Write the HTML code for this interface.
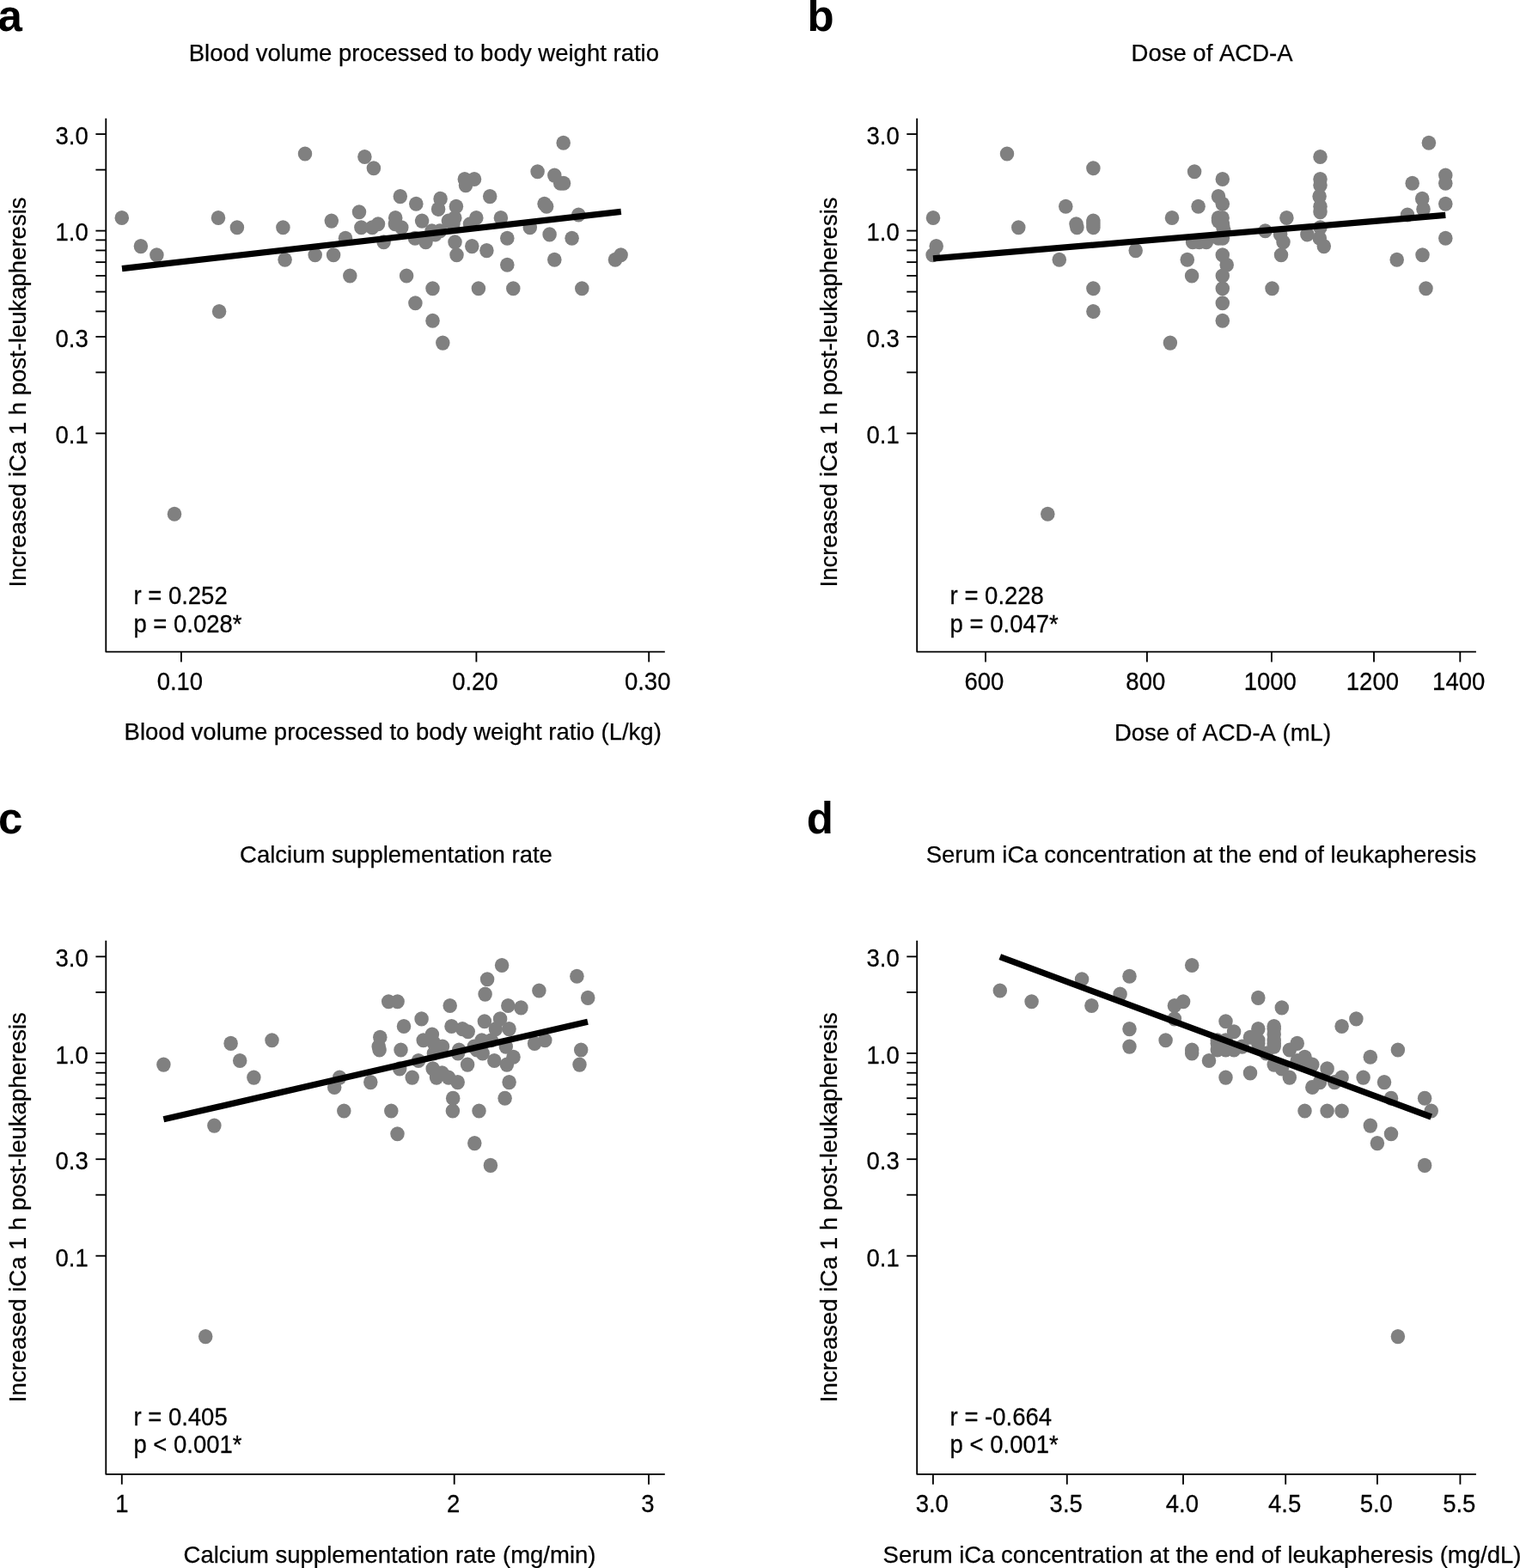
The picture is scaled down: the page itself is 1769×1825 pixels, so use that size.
<!DOCTYPE html>
<html lang="en"><head><meta charset="utf-8"><title>Correlation scatter plots</title>
<style>
html,body{margin:0;padding:0;background:#fff;}
body{width:1769px;height:1825px;overflow:hidden;}
svg{display:block;font-family:"Liberation Sans",Arial,Helvetica,sans-serif;fill:#000;font-kerning:none;}
</style></head><body>
<svg width="1769" height="1825" viewBox="0 0 1769 1825">
<rect x="0" y="0" width="1769" height="1825" fill="#fff"/>
<g id="panel-a">
<g fill="#808080">
<ellipse cx="141.8" cy="253.5" rx="8.25" ry="8.55"/>
<ellipse cx="163.9" cy="286.6" rx="8.25" ry="8.55"/>
<ellipse cx="182.4" cy="296.8" rx="8.25" ry="8.55"/>
<ellipse cx="254.0" cy="253.5" rx="8.25" ry="8.55"/>
<ellipse cx="275.9" cy="264.7" rx="8.25" ry="8.55"/>
<ellipse cx="329.4" cy="264.7" rx="8.25" ry="8.55"/>
<ellipse cx="355.0" cy="179.0" rx="8.25" ry="8.55"/>
<ellipse cx="331.6" cy="302.3" rx="8.25" ry="8.55"/>
<ellipse cx="255.1" cy="362.5" rx="8.25" ry="8.55"/>
<ellipse cx="203.0" cy="598.3" rx="8.25" ry="8.55"/>
<ellipse cx="366.7" cy="296.8" rx="8.25" ry="8.55"/>
<ellipse cx="388.1" cy="296.8" rx="8.25" ry="8.55"/>
<ellipse cx="385.8" cy="257.1" rx="8.25" ry="8.55"/>
<ellipse cx="402.0" cy="277.2" rx="8.25" ry="8.55"/>
<ellipse cx="407.3" cy="321.0" rx="8.25" ry="8.55"/>
<ellipse cx="418.0" cy="246.7" rx="8.25" ry="8.55"/>
<ellipse cx="420.4" cy="264.7" rx="8.25" ry="8.55"/>
<ellipse cx="424.4" cy="182.5" rx="8.25" ry="8.55"/>
<ellipse cx="433.2" cy="264.7" rx="8.25" ry="8.55"/>
<ellipse cx="434.9" cy="195.7" rx="8.25" ry="8.55"/>
<ellipse cx="440.0" cy="260.8" rx="8.25" ry="8.55"/>
<ellipse cx="446.6" cy="281.8" rx="8.25" ry="8.55"/>
<ellipse cx="460.2" cy="253.5" rx="8.25" ry="8.55"/>
<ellipse cx="459.9" cy="260.8" rx="8.25" ry="8.55"/>
<ellipse cx="467.3" cy="264.7" rx="8.25" ry="8.55"/>
<ellipse cx="465.8" cy="228.6" rx="8.25" ry="8.55"/>
<ellipse cx="473.1" cy="321.0" rx="8.25" ry="8.55"/>
<ellipse cx="483.4" cy="352.8" rx="8.25" ry="8.55"/>
<ellipse cx="484.3" cy="237.2" rx="8.25" ry="8.55"/>
<ellipse cx="483.0" cy="277.2" rx="8.25" ry="8.55"/>
<ellipse cx="491.1" cy="257.1" rx="8.25" ry="8.55"/>
<ellipse cx="495.5" cy="281.8" rx="8.25" ry="8.55"/>
<ellipse cx="502.6" cy="268.7" rx="8.25" ry="8.55"/>
<ellipse cx="512.2" cy="268.7" rx="8.25" ry="8.55"/>
<ellipse cx="506.6" cy="272.9" rx="8.25" ry="8.55"/>
<ellipse cx="503.5" cy="335.7" rx="8.25" ry="8.55"/>
<ellipse cx="503.5" cy="373.3" rx="8.25" ry="8.55"/>
<ellipse cx="510.1" cy="243.4" rx="8.25" ry="8.55"/>
<ellipse cx="512.6" cy="231.4" rx="8.25" ry="8.55"/>
<ellipse cx="515.3" cy="399.1" rx="8.25" ry="8.55"/>
<ellipse cx="521.9" cy="257.1" rx="8.25" ry="8.55"/>
<ellipse cx="529.3" cy="253.5" rx="8.25" ry="8.55"/>
<ellipse cx="527.5" cy="260.8" rx="8.25" ry="8.55"/>
<ellipse cx="530.9" cy="240.3" rx="8.25" ry="8.55"/>
<ellipse cx="529.5" cy="281.8" rx="8.25" ry="8.55"/>
<ellipse cx="531.5" cy="296.8" rx="8.25" ry="8.55"/>
<ellipse cx="540.8" cy="208.5" rx="8.25" ry="8.55"/>
<ellipse cx="542.0" cy="215.6" rx="8.25" ry="8.55"/>
<ellipse cx="547.0" cy="260.8" rx="8.25" ry="8.55"/>
<ellipse cx="549.3" cy="286.6" rx="8.25" ry="8.55"/>
<ellipse cx="552.0" cy="208.5" rx="8.25" ry="8.55"/>
<ellipse cx="554.3" cy="253.5" rx="8.25" ry="8.55"/>
<ellipse cx="556.9" cy="335.7" rx="8.25" ry="8.55"/>
<ellipse cx="566.4" cy="291.6" rx="8.25" ry="8.55"/>
<ellipse cx="570.2" cy="228.6" rx="8.25" ry="8.55"/>
<ellipse cx="582.9" cy="253.5" rx="8.25" ry="8.55"/>
<ellipse cx="590.3" cy="277.2" rx="8.25" ry="8.55"/>
<ellipse cx="590.3" cy="308.2" rx="8.25" ry="8.55"/>
<ellipse cx="597.3" cy="335.7" rx="8.25" ry="8.55"/>
<ellipse cx="616.8" cy="264.7" rx="8.25" ry="8.55"/>
<ellipse cx="625.6" cy="199.8" rx="8.25" ry="8.55"/>
<ellipse cx="633.6" cy="237.2" rx="8.25" ry="8.55"/>
<ellipse cx="636.1" cy="240.3" rx="8.25" ry="8.55"/>
<ellipse cx="639.6" cy="272.9" rx="8.25" ry="8.55"/>
<ellipse cx="645.3" cy="204.1" rx="8.25" ry="8.55"/>
<ellipse cx="645.3" cy="302.3" rx="8.25" ry="8.55"/>
<ellipse cx="652.2" cy="213.2" rx="8.25" ry="8.55"/>
<ellipse cx="656.0" cy="213.2" rx="8.25" ry="8.55"/>
<ellipse cx="655.7" cy="166.2" rx="8.25" ry="8.55"/>
<ellipse cx="665.6" cy="277.2" rx="8.25" ry="8.55"/>
<ellipse cx="673.3" cy="250.0" rx="8.25" ry="8.55"/>
<ellipse cx="677.3" cy="335.7" rx="8.25" ry="8.55"/>
<ellipse cx="716.0" cy="302.3" rx="8.25" ry="8.55"/>
<ellipse cx="722.6" cy="296.8" rx="8.25" ry="8.55"/>
</g>
<line x1="142.00" y1="312.60" x2="722.80" y2="246.30" stroke="#000" stroke-width="7.3" stroke-linecap="butt"/>
<path d="M123.30 137.70V758.60H773.80" fill="none" stroke="#000" stroke-width="1.85" stroke-linejoin="round"/>
<line x1="111.40" y1="156.09" x2="123.30" y2="156.09" stroke="#000" stroke-width="1.85" stroke-linecap="butt"/>
<line x1="111.40" y1="197.62" x2="123.30" y2="197.62" stroke="#000" stroke-width="1.85" stroke-linecap="butt"/>
<line x1="111.40" y1="268.60" x2="123.30" y2="268.60" stroke="#000" stroke-width="1.85" stroke-linecap="butt"/>
<line x1="111.40" y1="279.39" x2="123.30" y2="279.39" stroke="#000" stroke-width="1.85" stroke-linecap="butt"/>
<line x1="111.40" y1="291.45" x2="123.30" y2="291.45" stroke="#000" stroke-width="1.85" stroke-linecap="butt"/>
<line x1="111.40" y1="305.13" x2="123.30" y2="305.13" stroke="#000" stroke-width="1.85" stroke-linecap="butt"/>
<line x1="111.40" y1="320.91" x2="123.30" y2="320.91" stroke="#000" stroke-width="1.85" stroke-linecap="butt"/>
<line x1="111.40" y1="339.58" x2="123.30" y2="339.58" stroke="#000" stroke-width="1.85" stroke-linecap="butt"/>
<line x1="111.40" y1="362.43" x2="123.30" y2="362.43" stroke="#000" stroke-width="1.85" stroke-linecap="butt"/>
<line x1="111.40" y1="391.89" x2="123.30" y2="391.89" stroke="#000" stroke-width="1.85" stroke-linecap="butt"/>
<line x1="111.40" y1="433.42" x2="123.30" y2="433.42" stroke="#000" stroke-width="1.85" stroke-linecap="butt"/>
<line x1="111.40" y1="504.40" x2="123.30" y2="504.40" stroke="#000" stroke-width="1.85" stroke-linecap="butt"/>
<text transform="translate(102.80 167.89) scale(1 1.04)" text-anchor="end" font-size="27.5" font-weight="normal" stroke="#000" stroke-width="0.25">3.0</text>
<text transform="translate(102.80 280.40) scale(1 1.04)" text-anchor="end" font-size="27.5" font-weight="normal" stroke="#000" stroke-width="0.25">1.0</text>
<text transform="translate(102.80 403.69) scale(1 1.04)" text-anchor="end" font-size="27.5" font-weight="normal" stroke="#000" stroke-width="0.25">0.3</text>
<text transform="translate(102.80 516.20) scale(1 1.04)" text-anchor="end" font-size="27.5" font-weight="normal" stroke="#000" stroke-width="0.25">0.1</text>
<line x1="210.90" y1="758.60" x2="210.90" y2="770.50" stroke="#000" stroke-width="1.85" stroke-linecap="butt"/>
<text transform="translate(209.40 802.60) scale(1 1.04)" text-anchor="middle" font-size="27.5" font-weight="normal" stroke="#000" stroke-width="0.25">0.10</text>
<line x1="554.40" y1="758.60" x2="554.40" y2="770.50" stroke="#000" stroke-width="1.85" stroke-linecap="butt"/>
<text transform="translate(552.90 802.60) scale(1 1.04)" text-anchor="middle" font-size="27.5" font-weight="normal" stroke="#000" stroke-width="0.25">0.20</text>
<line x1="755.20" y1="758.60" x2="755.20" y2="770.50" stroke="#000" stroke-width="1.85" stroke-linecap="butt"/>
<text transform="translate(753.70 802.60) scale(1 1.04)" text-anchor="middle" font-size="27.5" font-weight="normal" stroke="#000" stroke-width="0.25">0.30</text>
<text transform="translate(493.35 70.80) scale(1 1.0)" text-anchor="middle" font-size="27.5" font-weight="normal" stroke="#000" stroke-width="0.25">Blood volume processed to body weight ratio</text>
<text transform="translate(457.20 861.40) scale(1 1.0)" text-anchor="middle" font-size="27.5" font-weight="normal" stroke="#000" stroke-width="0.25">Blood volume processed to body weight ratio (L/kg)</text>
<text transform="translate(-2.60 36.00) scale(1 1.02)" text-anchor="start" font-size="51" font-weight="bold" stroke="#000" stroke-width="0">a</text>
<text transform="translate(155.40 702.90) scale(1 1.04)" text-anchor="start" font-size="27.5" font-weight="normal" stroke="#000" stroke-width="0.25">r = 0.252</text>
<text transform="translate(155.40 735.50) scale(1 1.04)" text-anchor="start" font-size="27.5" font-weight="normal" stroke="#000" stroke-width="0.25">p = 0.028*</text>
<text transform="translate(29.50 456.50) rotate(-90) scale(1 1.0)" text-anchor="middle" font-size="27.5" font-weight="normal" stroke="#000" stroke-width="0.25">Increased iCa 1 h post-leukapheresis</text>
</g>
<g id="panel-b">
<g fill="#808080">
<ellipse cx="1172.0" cy="179.0" rx="8.25" ry="8.55"/>
<ellipse cx="1272.4" cy="195.7" rx="8.25" ry="8.55"/>
<ellipse cx="1240.3" cy="240.3" rx="8.25" ry="8.55"/>
<ellipse cx="1086.0" cy="253.5" rx="8.25" ry="8.55"/>
<ellipse cx="1185.3" cy="264.7" rx="8.25" ry="8.55"/>
<ellipse cx="1252.5" cy="260.8" rx="8.25" ry="8.55"/>
<ellipse cx="1253.4" cy="264.7" rx="8.25" ry="8.55"/>
<ellipse cx="1272.4" cy="257.1" rx="8.25" ry="8.55"/>
<ellipse cx="1272.4" cy="264.7" rx="8.25" ry="8.55"/>
<ellipse cx="1089.7" cy="286.6" rx="8.25" ry="8.55"/>
<ellipse cx="1085.6" cy="296.8" rx="8.25" ry="8.55"/>
<ellipse cx="1232.8" cy="302.3" rx="8.25" ry="8.55"/>
<ellipse cx="1272.4" cy="335.7" rx="8.25" ry="8.55"/>
<ellipse cx="1272.4" cy="362.5" rx="8.25" ry="8.55"/>
<ellipse cx="1219.3" cy="598.3" rx="8.25" ry="8.55"/>
<ellipse cx="1361.9" cy="399.1" rx="8.25" ry="8.55"/>
<ellipse cx="1390.1" cy="199.8" rx="8.25" ry="8.55"/>
<ellipse cx="1422.8" cy="208.5" rx="8.25" ry="8.55"/>
<ellipse cx="1418.0" cy="228.6" rx="8.25" ry="8.55"/>
<ellipse cx="1422.8" cy="237.2" rx="8.25" ry="8.55"/>
<ellipse cx="1394.6" cy="240.3" rx="8.25" ry="8.55"/>
<ellipse cx="1364.0" cy="253.5" rx="8.25" ry="8.55"/>
<ellipse cx="1497.4" cy="253.5" rx="8.25" ry="8.55"/>
<ellipse cx="1418.0" cy="253.5" rx="8.25" ry="8.55"/>
<ellipse cx="1422.6" cy="253.5" rx="8.25" ry="8.55"/>
<ellipse cx="1418.0" cy="257.1" rx="8.25" ry="8.55"/>
<ellipse cx="1423.4" cy="264.7" rx="8.25" ry="8.55"/>
<ellipse cx="1422.9" cy="260.8" rx="8.25" ry="8.55"/>
<ellipse cx="1388.1" cy="281.8" rx="8.25" ry="8.55"/>
<ellipse cx="1403.9" cy="281.8" rx="8.25" ry="8.55"/>
<ellipse cx="1418.0" cy="277.2" rx="8.25" ry="8.55"/>
<ellipse cx="1422.9" cy="277.2" rx="8.25" ry="8.55"/>
<ellipse cx="1472.5" cy="268.7" rx="8.25" ry="8.55"/>
<ellipse cx="1490.1" cy="272.9" rx="8.25" ry="8.55"/>
<ellipse cx="1493.5" cy="281.8" rx="8.25" ry="8.55"/>
<ellipse cx="1491.0" cy="296.8" rx="8.25" ry="8.55"/>
<ellipse cx="1321.7" cy="291.6" rx="8.25" ry="8.55"/>
<ellipse cx="1381.8" cy="302.3" rx="8.25" ry="8.55"/>
<ellipse cx="1387.1" cy="321.0" rx="8.25" ry="8.55"/>
<ellipse cx="1422.8" cy="296.8" rx="8.25" ry="8.55"/>
<ellipse cx="1427.7" cy="308.2" rx="8.25" ry="8.55"/>
<ellipse cx="1422.8" cy="321.0" rx="8.25" ry="8.55"/>
<ellipse cx="1422.8" cy="335.7" rx="8.25" ry="8.55"/>
<ellipse cx="1422.8" cy="352.8" rx="8.25" ry="8.55"/>
<ellipse cx="1422.8" cy="373.3" rx="8.25" ry="8.55"/>
<ellipse cx="1480.5" cy="335.7" rx="8.25" ry="8.55"/>
<ellipse cx="1521.4" cy="272.9" rx="8.25" ry="8.55"/>
<ellipse cx="1536.5" cy="182.5" rx="8.25" ry="8.55"/>
<ellipse cx="1536.5" cy="208.5" rx="8.25" ry="8.55"/>
<ellipse cx="1536.5" cy="215.6" rx="8.25" ry="8.55"/>
<ellipse cx="1535.6" cy="228.6" rx="8.25" ry="8.55"/>
<ellipse cx="1536.5" cy="240.3" rx="8.25" ry="8.55"/>
<ellipse cx="1536.5" cy="246.7" rx="8.25" ry="8.55"/>
<ellipse cx="1536.5" cy="264.7" rx="8.25" ry="8.55"/>
<ellipse cx="1535.8" cy="277.2" rx="8.25" ry="8.55"/>
<ellipse cx="1540.8" cy="286.6" rx="8.25" ry="8.55"/>
<ellipse cx="1643.7" cy="213.2" rx="8.25" ry="8.55"/>
<ellipse cx="1682.3" cy="204.1" rx="8.25" ry="8.55"/>
<ellipse cx="1682.3" cy="213.2" rx="8.25" ry="8.55"/>
<ellipse cx="1655.2" cy="231.4" rx="8.25" ry="8.55"/>
<ellipse cx="1682.3" cy="237.2" rx="8.25" ry="8.55"/>
<ellipse cx="1656.5" cy="243.4" rx="8.25" ry="8.55"/>
<ellipse cx="1638.0" cy="250.0" rx="8.25" ry="8.55"/>
<ellipse cx="1682.3" cy="277.2" rx="8.25" ry="8.55"/>
<ellipse cx="1655.5" cy="296.8" rx="8.25" ry="8.55"/>
<ellipse cx="1625.7" cy="302.3" rx="8.25" ry="8.55"/>
<ellipse cx="1659.5" cy="335.7" rx="8.25" ry="8.55"/>
<ellipse cx="1662.9" cy="166.2" rx="8.25" ry="8.55"/>
<ellipse cx="1395.7" cy="281.8" rx="8.25" ry="8.55"/>
<ellipse cx="1424.4" cy="268.7" rx="8.25" ry="8.55"/>
<ellipse cx="1272.4" cy="260.8" rx="8.25" ry="8.55"/>
</g>
<line x1="1086.00" y1="300.90" x2="1682.30" y2="250.40" stroke="#000" stroke-width="7.3" stroke-linecap="butt"/>
<path d="M1067.20 137.70V758.60H1717.90" fill="none" stroke="#000" stroke-width="1.85" stroke-linejoin="round"/>
<line x1="1055.30" y1="156.09" x2="1067.20" y2="156.09" stroke="#000" stroke-width="1.85" stroke-linecap="butt"/>
<line x1="1055.30" y1="197.62" x2="1067.20" y2="197.62" stroke="#000" stroke-width="1.85" stroke-linecap="butt"/>
<line x1="1055.30" y1="268.60" x2="1067.20" y2="268.60" stroke="#000" stroke-width="1.85" stroke-linecap="butt"/>
<line x1="1055.30" y1="279.39" x2="1067.20" y2="279.39" stroke="#000" stroke-width="1.85" stroke-linecap="butt"/>
<line x1="1055.30" y1="291.45" x2="1067.20" y2="291.45" stroke="#000" stroke-width="1.85" stroke-linecap="butt"/>
<line x1="1055.30" y1="305.13" x2="1067.20" y2="305.13" stroke="#000" stroke-width="1.85" stroke-linecap="butt"/>
<line x1="1055.30" y1="320.91" x2="1067.20" y2="320.91" stroke="#000" stroke-width="1.85" stroke-linecap="butt"/>
<line x1="1055.30" y1="339.58" x2="1067.20" y2="339.58" stroke="#000" stroke-width="1.85" stroke-linecap="butt"/>
<line x1="1055.30" y1="362.43" x2="1067.20" y2="362.43" stroke="#000" stroke-width="1.85" stroke-linecap="butt"/>
<line x1="1055.30" y1="391.89" x2="1067.20" y2="391.89" stroke="#000" stroke-width="1.85" stroke-linecap="butt"/>
<line x1="1055.30" y1="433.42" x2="1067.20" y2="433.42" stroke="#000" stroke-width="1.85" stroke-linecap="butt"/>
<line x1="1055.30" y1="504.40" x2="1067.20" y2="504.40" stroke="#000" stroke-width="1.85" stroke-linecap="butt"/>
<text transform="translate(1046.70 167.89) scale(1 1.04)" text-anchor="end" font-size="27.5" font-weight="normal" stroke="#000" stroke-width="0.25">3.0</text>
<text transform="translate(1046.70 280.40) scale(1 1.04)" text-anchor="end" font-size="27.5" font-weight="normal" stroke="#000" stroke-width="0.25">1.0</text>
<text transform="translate(1046.70 403.69) scale(1 1.04)" text-anchor="end" font-size="27.5" font-weight="normal" stroke="#000" stroke-width="0.25">0.3</text>
<text transform="translate(1046.70 516.20) scale(1 1.04)" text-anchor="end" font-size="27.5" font-weight="normal" stroke="#000" stroke-width="0.25">0.1</text>
<line x1="1147.00" y1="758.60" x2="1147.00" y2="770.50" stroke="#000" stroke-width="1.85" stroke-linecap="butt"/>
<text transform="translate(1145.40 802.60) scale(1 1.04)" text-anchor="middle" font-size="27.5" font-weight="normal" stroke="#000" stroke-width="0.25">600</text>
<line x1="1334.90" y1="758.60" x2="1334.90" y2="770.50" stroke="#000" stroke-width="1.85" stroke-linecap="butt"/>
<text transform="translate(1333.30 802.60) scale(1 1.04)" text-anchor="middle" font-size="27.5" font-weight="normal" stroke="#000" stroke-width="0.25">800</text>
<line x1="1479.90" y1="758.60" x2="1479.90" y2="770.50" stroke="#000" stroke-width="1.85" stroke-linecap="butt"/>
<text transform="translate(1478.30 802.60) scale(1 1.04)" text-anchor="middle" font-size="27.5" font-weight="normal" stroke="#000" stroke-width="0.25">1000</text>
<line x1="1599.00" y1="758.60" x2="1599.00" y2="770.50" stroke="#000" stroke-width="1.85" stroke-linecap="butt"/>
<text transform="translate(1597.40 802.60) scale(1 1.04)" text-anchor="middle" font-size="27.5" font-weight="normal" stroke="#000" stroke-width="0.25">1200</text>
<line x1="1699.30" y1="758.60" x2="1699.30" y2="770.50" stroke="#000" stroke-width="1.85" stroke-linecap="butt"/>
<text transform="translate(1697.70 802.60) scale(1 1.04)" text-anchor="middle" font-size="27.5" font-weight="normal" stroke="#000" stroke-width="0.25">1400</text>
<text transform="translate(1410.50 70.70) scale(1 1.0)" text-anchor="middle" font-size="27.5" font-weight="normal" stroke="#000" stroke-width="0.25">Dose of ACD-A</text>
<text transform="translate(1423.00 861.80) scale(1 1.0)" text-anchor="middle" font-size="27.5" font-weight="normal" stroke="#000" stroke-width="0.25">Dose of ACD-A (mL)</text>
<text transform="translate(939.60 36.00) scale(1 1.02)" text-anchor="start" font-size="51" font-weight="bold" stroke="#000" stroke-width="0">b</text>
<text transform="translate(1105.60 702.90) scale(1 1.04)" text-anchor="start" font-size="27.5" font-weight="normal" stroke="#000" stroke-width="0.25">r = 0.228</text>
<text transform="translate(1105.60 735.50) scale(1 1.04)" text-anchor="start" font-size="27.5" font-weight="normal" stroke="#000" stroke-width="0.25">p = 0.047*</text>
<text transform="translate(973.50 456.50) rotate(-90) scale(1 1.0)" text-anchor="middle" font-size="27.5" font-weight="normal" stroke="#000" stroke-width="0.25">Increased iCa 1 h post-leukapheresis</text>
</g>
<g id="panel-c">
<g fill="#808080">
<ellipse cx="190.4" cy="1239.1" rx="8.25" ry="8.55"/>
<ellipse cx="268.6" cy="1214.4" rx="8.25" ry="8.55"/>
<ellipse cx="316.5" cy="1210.8" rx="8.25" ry="8.55"/>
<ellipse cx="279.2" cy="1234.5" rx="8.25" ry="8.55"/>
<ellipse cx="295.4" cy="1254.1" rx="8.25" ry="8.55"/>
<ellipse cx="239.2" cy="1555.6" rx="8.25" ry="8.55"/>
<ellipse cx="249.4" cy="1310.1" rx="8.25" ry="8.55"/>
<ellipse cx="395.2" cy="1254.1" rx="8.25" ry="8.55"/>
<ellipse cx="389.2" cy="1265.5" rx="8.25" ry="8.55"/>
<ellipse cx="400.3" cy="1293.0" rx="8.25" ry="8.55"/>
<ellipse cx="431.3" cy="1259.6" rx="8.25" ry="8.55"/>
<ellipse cx="442.3" cy="1207.3" rx="8.25" ry="8.55"/>
<ellipse cx="441.6" cy="1222.0" rx="8.25" ry="8.55"/>
<ellipse cx="452.2" cy="1165.8" rx="8.25" ry="8.55"/>
<ellipse cx="462.6" cy="1165.8" rx="8.25" ry="8.55"/>
<ellipse cx="455.3" cy="1293.0" rx="8.25" ry="8.55"/>
<ellipse cx="462.5" cy="1319.8" rx="8.25" ry="8.55"/>
<ellipse cx="465.2" cy="1243.9" rx="8.25" ry="8.55"/>
<ellipse cx="466.5" cy="1222.0" rx="8.25" ry="8.55"/>
<ellipse cx="470.0" cy="1194.5" rx="8.25" ry="8.55"/>
<ellipse cx="479.7" cy="1254.1" rx="8.25" ry="8.55"/>
<ellipse cx="487.0" cy="1234.5" rx="8.25" ry="8.55"/>
<ellipse cx="490.6" cy="1185.9" rx="8.25" ry="8.55"/>
<ellipse cx="492.7" cy="1210.8" rx="8.25" ry="8.55"/>
<ellipse cx="502.9" cy="1204.0" rx="8.25" ry="8.55"/>
<ellipse cx="504.9" cy="1226.0" rx="8.25" ry="8.55"/>
<ellipse cx="503.7" cy="1243.9" rx="8.25" ry="8.55"/>
<ellipse cx="508.0" cy="1254.1" rx="8.25" ry="8.55"/>
<ellipse cx="514.5" cy="1248.9" rx="8.25" ry="8.55"/>
<ellipse cx="515.0" cy="1218.1" rx="8.25" ry="8.55"/>
<ellipse cx="522.0" cy="1254.1" rx="8.25" ry="8.55"/>
<ellipse cx="523.7" cy="1170.5" rx="8.25" ry="8.55"/>
<ellipse cx="525.5" cy="1194.5" rx="8.25" ry="8.55"/>
<ellipse cx="527.2" cy="1278.3" rx="8.25" ry="8.55"/>
<ellipse cx="526.9" cy="1293.0" rx="8.25" ry="8.55"/>
<ellipse cx="532.7" cy="1259.6" rx="8.25" ry="8.55"/>
<ellipse cx="533.0" cy="1226.0" rx="8.25" ry="8.55"/>
<ellipse cx="534.2" cy="1222.0" rx="8.25" ry="8.55"/>
<ellipse cx="538.2" cy="1197.6" rx="8.25" ry="8.55"/>
<ellipse cx="544.7" cy="1200.7" rx="8.25" ry="8.55"/>
<ellipse cx="544.1" cy="1239.1" rx="8.25" ry="8.55"/>
<ellipse cx="551.8" cy="1218.1" rx="8.25" ry="8.55"/>
<ellipse cx="552.3" cy="1330.6" rx="8.25" ry="8.55"/>
<ellipse cx="554.9" cy="1222.0" rx="8.25" ry="8.55"/>
<ellipse cx="557.5" cy="1293.0" rx="8.25" ry="8.55"/>
<ellipse cx="560.7" cy="1210.8" rx="8.25" ry="8.55"/>
<ellipse cx="561.7" cy="1226.0" rx="8.25" ry="8.55"/>
<ellipse cx="563.9" cy="1188.7" rx="8.25" ry="8.55"/>
<ellipse cx="564.6" cy="1157.1" rx="8.25" ry="8.55"/>
<ellipse cx="567.1" cy="1139.8" rx="8.25" ry="8.55"/>
<ellipse cx="570.9" cy="1356.4" rx="8.25" ry="8.55"/>
<ellipse cx="571.7" cy="1210.8" rx="8.25" ry="8.55"/>
<ellipse cx="575.3" cy="1234.5" rx="8.25" ry="8.55"/>
<ellipse cx="576.9" cy="1197.6" rx="8.25" ry="8.55"/>
<ellipse cx="582.1" cy="1185.9" rx="8.25" ry="8.55"/>
<ellipse cx="584.1" cy="1123.5" rx="8.25" ry="8.55"/>
<ellipse cx="587.6" cy="1278.3" rx="8.25" ry="8.55"/>
<ellipse cx="588.8" cy="1218.1" rx="8.25" ry="8.55"/>
<ellipse cx="589.9" cy="1239.1" rx="8.25" ry="8.55"/>
<ellipse cx="591.3" cy="1170.5" rx="8.25" ry="8.55"/>
<ellipse cx="592.5" cy="1197.6" rx="8.25" ry="8.55"/>
<ellipse cx="592.6" cy="1259.6" rx="8.25" ry="8.55"/>
<ellipse cx="597.5" cy="1230.2" rx="8.25" ry="8.55"/>
<ellipse cx="606.4" cy="1172.9" rx="8.25" ry="8.55"/>
<ellipse cx="622.1" cy="1214.4" rx="8.25" ry="8.55"/>
<ellipse cx="627.4" cy="1153.0" rx="8.25" ry="8.55"/>
<ellipse cx="634.3" cy="1210.8" rx="8.25" ry="8.55"/>
<ellipse cx="671.4" cy="1136.3" rx="8.25" ry="8.55"/>
<ellipse cx="674.5" cy="1239.1" rx="8.25" ry="8.55"/>
<ellipse cx="676.2" cy="1222.0" rx="8.25" ry="8.55"/>
<ellipse cx="684.2" cy="1161.4" rx="8.25" ry="8.55"/>
<ellipse cx="440.7" cy="1218.1" rx="8.25" ry="8.55"/>
<ellipse cx="505.2" cy="1214.4" rx="8.25" ry="8.55"/>
</g>
<line x1="190.40" y1="1302.80" x2="684.00" y2="1189.30" stroke="#000" stroke-width="7.3" stroke-linecap="butt"/>
<path d="M123.30 1094.80V1715.80H773.80" fill="none" stroke="#000" stroke-width="1.85" stroke-linejoin="round"/>
<line x1="111.40" y1="1113.39" x2="123.30" y2="1113.39" stroke="#000" stroke-width="1.85" stroke-linecap="butt"/>
<line x1="111.40" y1="1154.92" x2="123.30" y2="1154.92" stroke="#000" stroke-width="1.85" stroke-linecap="butt"/>
<line x1="111.40" y1="1225.90" x2="123.30" y2="1225.90" stroke="#000" stroke-width="1.85" stroke-linecap="butt"/>
<line x1="111.40" y1="1236.69" x2="123.30" y2="1236.69" stroke="#000" stroke-width="1.85" stroke-linecap="butt"/>
<line x1="111.40" y1="1248.75" x2="123.30" y2="1248.75" stroke="#000" stroke-width="1.85" stroke-linecap="butt"/>
<line x1="111.40" y1="1262.43" x2="123.30" y2="1262.43" stroke="#000" stroke-width="1.85" stroke-linecap="butt"/>
<line x1="111.40" y1="1278.21" x2="123.30" y2="1278.21" stroke="#000" stroke-width="1.85" stroke-linecap="butt"/>
<line x1="111.40" y1="1296.88" x2="123.30" y2="1296.88" stroke="#000" stroke-width="1.85" stroke-linecap="butt"/>
<line x1="111.40" y1="1319.73" x2="123.30" y2="1319.73" stroke="#000" stroke-width="1.85" stroke-linecap="butt"/>
<line x1="111.40" y1="1349.19" x2="123.30" y2="1349.19" stroke="#000" stroke-width="1.85" stroke-linecap="butt"/>
<line x1="111.40" y1="1390.72" x2="123.30" y2="1390.72" stroke="#000" stroke-width="1.85" stroke-linecap="butt"/>
<line x1="111.40" y1="1461.70" x2="123.30" y2="1461.70" stroke="#000" stroke-width="1.85" stroke-linecap="butt"/>
<text transform="translate(102.80 1125.19) scale(1 1.04)" text-anchor="end" font-size="27.5" font-weight="normal" stroke="#000" stroke-width="0.25">3.0</text>
<text transform="translate(102.80 1237.70) scale(1 1.04)" text-anchor="end" font-size="27.5" font-weight="normal" stroke="#000" stroke-width="0.25">1.0</text>
<text transform="translate(102.80 1360.99) scale(1 1.04)" text-anchor="end" font-size="27.5" font-weight="normal" stroke="#000" stroke-width="0.25">0.3</text>
<text transform="translate(102.80 1473.50) scale(1 1.04)" text-anchor="end" font-size="27.5" font-weight="normal" stroke="#000" stroke-width="0.25">0.1</text>
<line x1="141.80" y1="1715.80" x2="141.80" y2="1727.70" stroke="#000" stroke-width="1.85" stroke-linecap="butt"/>
<text transform="translate(141.80 1759.80) scale(1 1.04)" text-anchor="middle" font-size="27.5" font-weight="normal" stroke="#000" stroke-width="0.25">1</text>
<line x1="528.70" y1="1715.80" x2="528.70" y2="1727.70" stroke="#000" stroke-width="1.85" stroke-linecap="butt"/>
<text transform="translate(527.70 1759.80) scale(1 1.04)" text-anchor="middle" font-size="27.5" font-weight="normal" stroke="#000" stroke-width="0.25">2</text>
<line x1="755.00" y1="1715.80" x2="755.00" y2="1727.70" stroke="#000" stroke-width="1.85" stroke-linecap="butt"/>
<text transform="translate(754.00 1759.80) scale(1 1.04)" text-anchor="middle" font-size="27.5" font-weight="normal" stroke="#000" stroke-width="0.25">3</text>
<text transform="translate(461.00 1003.70) scale(1 1.0)" text-anchor="middle" font-size="27.5" font-weight="normal" stroke="#000" stroke-width="0.25">Calcium supplementation rate</text>
<text transform="translate(453.50 1818.90) scale(1 1.0)" text-anchor="middle" font-size="27.5" font-weight="normal" stroke="#000" stroke-width="0.25">Calcium supplementation rate (mg/min)</text>
<text transform="translate(-2.00 969.50) scale(1 1.02)" text-anchor="start" font-size="51" font-weight="bold" stroke="#000" stroke-width="0">c</text>
<text transform="translate(155.40 1658.80) scale(1 1.04)" text-anchor="start" font-size="27.5" font-weight="normal" stroke="#000" stroke-width="0.25">r = 0.405</text>
<text transform="translate(155.40 1691.40) scale(1 1.04)" text-anchor="start" font-size="27.5" font-weight="normal" stroke="#000" stroke-width="0.25">p &lt; 0.001*</text>
<text transform="translate(29.50 1405.20) rotate(-90) scale(1 1.0)" text-anchor="middle" font-size="27.5" font-weight="normal" stroke="#000" stroke-width="0.25">Increased iCa 1 h post-leukapheresis</text>
</g>
<g id="panel-d">
<g fill="#808080">
<ellipse cx="1163.8" cy="1153.0" rx="8.25" ry="8.55"/>
<ellipse cx="1200.6" cy="1165.8" rx="8.25" ry="8.55"/>
<ellipse cx="1259.1" cy="1139.8" rx="8.25" ry="8.55"/>
<ellipse cx="1270.4" cy="1170.5" rx="8.25" ry="8.55"/>
<ellipse cx="1303.6" cy="1157.1" rx="8.25" ry="8.55"/>
<ellipse cx="1314.5" cy="1136.3" rx="8.25" ry="8.55"/>
<ellipse cx="1314.5" cy="1197.6" rx="8.25" ry="8.55"/>
<ellipse cx="1314.5" cy="1218.1" rx="8.25" ry="8.55"/>
<ellipse cx="1356.6" cy="1210.8" rx="8.25" ry="8.55"/>
<ellipse cx="1366.9" cy="1170.5" rx="8.25" ry="8.55"/>
<ellipse cx="1366.9" cy="1185.9" rx="8.25" ry="8.55"/>
<ellipse cx="1377.1" cy="1165.8" rx="8.25" ry="8.55"/>
<ellipse cx="1387.2" cy="1123.5" rx="8.25" ry="8.55"/>
<ellipse cx="1387.2" cy="1222.0" rx="8.25" ry="8.55"/>
<ellipse cx="1387.2" cy="1226.0" rx="8.25" ry="8.55"/>
<ellipse cx="1407.0" cy="1234.5" rx="8.25" ry="8.55"/>
<ellipse cx="1416.8" cy="1210.8" rx="8.25" ry="8.55"/>
<ellipse cx="1416.8" cy="1214.4" rx="8.25" ry="8.55"/>
<ellipse cx="1416.8" cy="1222.0" rx="8.25" ry="8.55"/>
<ellipse cx="1426.5" cy="1188.7" rx="8.25" ry="8.55"/>
<ellipse cx="1426.5" cy="1210.8" rx="8.25" ry="8.55"/>
<ellipse cx="1426.5" cy="1222.0" rx="8.25" ry="8.55"/>
<ellipse cx="1426.5" cy="1254.1" rx="8.25" ry="8.55"/>
<ellipse cx="1436.1" cy="1200.7" rx="8.25" ry="8.55"/>
<ellipse cx="1436.1" cy="1222.0" rx="8.25" ry="8.55"/>
<ellipse cx="1445.6" cy="1218.1" rx="8.25" ry="8.55"/>
<ellipse cx="1455.0" cy="1207.3" rx="8.25" ry="8.55"/>
<ellipse cx="1455.0" cy="1248.9" rx="8.25" ry="8.55"/>
<ellipse cx="1464.3" cy="1161.4" rx="8.25" ry="8.55"/>
<ellipse cx="1464.3" cy="1197.6" rx="8.25" ry="8.55"/>
<ellipse cx="1464.3" cy="1210.8" rx="8.25" ry="8.55"/>
<ellipse cx="1464.3" cy="1214.4" rx="8.25" ry="8.55"/>
<ellipse cx="1473.6" cy="1226.0" rx="8.25" ry="8.55"/>
<ellipse cx="1482.7" cy="1194.5" rx="8.25" ry="8.55"/>
<ellipse cx="1482.7" cy="1204.0" rx="8.25" ry="8.55"/>
<ellipse cx="1482.7" cy="1214.4" rx="8.25" ry="8.55"/>
<ellipse cx="1482.7" cy="1218.1" rx="8.25" ry="8.55"/>
<ellipse cx="1482.7" cy="1239.1" rx="8.25" ry="8.55"/>
<ellipse cx="1491.8" cy="1172.9" rx="8.25" ry="8.55"/>
<ellipse cx="1491.8" cy="1243.9" rx="8.25" ry="8.55"/>
<ellipse cx="1500.8" cy="1222.0" rx="8.25" ry="8.55"/>
<ellipse cx="1500.8" cy="1254.1" rx="8.25" ry="8.55"/>
<ellipse cx="1509.7" cy="1214.4" rx="8.25" ry="8.55"/>
<ellipse cx="1509.7" cy="1234.5" rx="8.25" ry="8.55"/>
<ellipse cx="1518.5" cy="1230.2" rx="8.25" ry="8.55"/>
<ellipse cx="1518.5" cy="1293.0" rx="8.25" ry="8.55"/>
<ellipse cx="1527.3" cy="1239.1" rx="8.25" ry="8.55"/>
<ellipse cx="1527.3" cy="1265.5" rx="8.25" ry="8.55"/>
<ellipse cx="1536.0" cy="1259.6" rx="8.25" ry="8.55"/>
<ellipse cx="1544.6" cy="1243.9" rx="8.25" ry="8.55"/>
<ellipse cx="1544.6" cy="1293.0" rx="8.25" ry="8.55"/>
<ellipse cx="1553.2" cy="1259.6" rx="8.25" ry="8.55"/>
<ellipse cx="1561.6" cy="1194.5" rx="8.25" ry="8.55"/>
<ellipse cx="1561.6" cy="1254.1" rx="8.25" ry="8.55"/>
<ellipse cx="1561.6" cy="1293.0" rx="8.25" ry="8.55"/>
<ellipse cx="1578.4" cy="1185.9" rx="8.25" ry="8.55"/>
<ellipse cx="1586.6" cy="1254.1" rx="8.25" ry="8.55"/>
<ellipse cx="1594.8" cy="1230.2" rx="8.25" ry="8.55"/>
<ellipse cx="1594.8" cy="1310.1" rx="8.25" ry="8.55"/>
<ellipse cx="1602.9" cy="1330.6" rx="8.25" ry="8.55"/>
<ellipse cx="1611.0" cy="1259.6" rx="8.25" ry="8.55"/>
<ellipse cx="1619.0" cy="1278.3" rx="8.25" ry="8.55"/>
<ellipse cx="1619.0" cy="1319.8" rx="8.25" ry="8.55"/>
<ellipse cx="1626.9" cy="1222.0" rx="8.25" ry="8.55"/>
<ellipse cx="1626.9" cy="1555.6" rx="8.25" ry="8.55"/>
<ellipse cx="1658.1" cy="1278.3" rx="8.25" ry="8.55"/>
<ellipse cx="1658.1" cy="1356.4" rx="8.25" ry="8.55"/>
<ellipse cx="1665.7" cy="1293.0" rx="8.25" ry="8.55"/>
<ellipse cx="1482.7" cy="1197.6" rx="8.25" ry="8.55"/>
<ellipse cx="1482.7" cy="1210.8" rx="8.25" ry="8.55"/>
<ellipse cx="1518.5" cy="1234.5" rx="8.25" ry="8.55"/>
</g>
<line x1="1163.80" y1="1113.60" x2="1665.70" y2="1300.00" stroke="#000" stroke-width="7.3" stroke-linecap="butt"/>
<path d="M1067.20 1094.80V1715.80H1717.90" fill="none" stroke="#000" stroke-width="1.85" stroke-linejoin="round"/>
<line x1="1055.30" y1="1113.39" x2="1067.20" y2="1113.39" stroke="#000" stroke-width="1.85" stroke-linecap="butt"/>
<line x1="1055.30" y1="1154.92" x2="1067.20" y2="1154.92" stroke="#000" stroke-width="1.85" stroke-linecap="butt"/>
<line x1="1055.30" y1="1225.90" x2="1067.20" y2="1225.90" stroke="#000" stroke-width="1.85" stroke-linecap="butt"/>
<line x1="1055.30" y1="1236.69" x2="1067.20" y2="1236.69" stroke="#000" stroke-width="1.85" stroke-linecap="butt"/>
<line x1="1055.30" y1="1248.75" x2="1067.20" y2="1248.75" stroke="#000" stroke-width="1.85" stroke-linecap="butt"/>
<line x1="1055.30" y1="1262.43" x2="1067.20" y2="1262.43" stroke="#000" stroke-width="1.85" stroke-linecap="butt"/>
<line x1="1055.30" y1="1278.21" x2="1067.20" y2="1278.21" stroke="#000" stroke-width="1.85" stroke-linecap="butt"/>
<line x1="1055.30" y1="1296.88" x2="1067.20" y2="1296.88" stroke="#000" stroke-width="1.85" stroke-linecap="butt"/>
<line x1="1055.30" y1="1319.73" x2="1067.20" y2="1319.73" stroke="#000" stroke-width="1.85" stroke-linecap="butt"/>
<line x1="1055.30" y1="1349.19" x2="1067.20" y2="1349.19" stroke="#000" stroke-width="1.85" stroke-linecap="butt"/>
<line x1="1055.30" y1="1390.72" x2="1067.20" y2="1390.72" stroke="#000" stroke-width="1.85" stroke-linecap="butt"/>
<line x1="1055.30" y1="1461.70" x2="1067.20" y2="1461.70" stroke="#000" stroke-width="1.85" stroke-linecap="butt"/>
<text transform="translate(1046.70 1125.19) scale(1 1.04)" text-anchor="end" font-size="27.5" font-weight="normal" stroke="#000" stroke-width="0.25">3.0</text>
<text transform="translate(1046.70 1237.70) scale(1 1.04)" text-anchor="end" font-size="27.5" font-weight="normal" stroke="#000" stroke-width="0.25">1.0</text>
<text transform="translate(1046.70 1360.99) scale(1 1.04)" text-anchor="end" font-size="27.5" font-weight="normal" stroke="#000" stroke-width="0.25">0.3</text>
<text transform="translate(1046.70 1473.50) scale(1 1.04)" text-anchor="end" font-size="27.5" font-weight="normal" stroke="#000" stroke-width="0.25">0.1</text>
<line x1="1085.90" y1="1715.80" x2="1085.90" y2="1727.70" stroke="#000" stroke-width="1.85" stroke-linecap="butt"/>
<text transform="translate(1084.80 1759.80) scale(1 1.04)" text-anchor="middle" font-size="27.5" font-weight="normal" stroke="#000" stroke-width="0.25">3.0</text>
<line x1="1241.80" y1="1715.80" x2="1241.80" y2="1727.70" stroke="#000" stroke-width="1.85" stroke-linecap="butt"/>
<text transform="translate(1240.70 1759.80) scale(1 1.04)" text-anchor="middle" font-size="27.5" font-weight="normal" stroke="#000" stroke-width="0.25">3.5</text>
<line x1="1377.00" y1="1715.80" x2="1377.00" y2="1727.70" stroke="#000" stroke-width="1.85" stroke-linecap="butt"/>
<text transform="translate(1375.90 1759.80) scale(1 1.04)" text-anchor="middle" font-size="27.5" font-weight="normal" stroke="#000" stroke-width="0.25">4.0</text>
<line x1="1496.20" y1="1715.80" x2="1496.20" y2="1727.70" stroke="#000" stroke-width="1.85" stroke-linecap="butt"/>
<text transform="translate(1495.10 1759.80) scale(1 1.04)" text-anchor="middle" font-size="27.5" font-weight="normal" stroke="#000" stroke-width="0.25">4.5</text>
<line x1="1602.90" y1="1715.80" x2="1602.90" y2="1727.70" stroke="#000" stroke-width="1.85" stroke-linecap="butt"/>
<text transform="translate(1601.80 1759.80) scale(1 1.04)" text-anchor="middle" font-size="27.5" font-weight="normal" stroke="#000" stroke-width="0.25">5.0</text>
<line x1="1699.40" y1="1715.80" x2="1699.40" y2="1727.70" stroke="#000" stroke-width="1.85" stroke-linecap="butt"/>
<text transform="translate(1698.30 1759.80) scale(1 1.04)" text-anchor="middle" font-size="27.5" font-weight="normal" stroke="#000" stroke-width="0.25">5.5</text>
<text transform="translate(1398.00 1003.70) scale(1 1.0)" text-anchor="middle" font-size="27.5" font-weight="normal" stroke="#000" stroke-width="0.25">Serum iCa concentration at the end of leukapheresis</text>
<text transform="translate(1399.00 1818.90) scale(1 1.0)" text-anchor="middle" font-size="27.5" font-weight="normal" stroke="#000" stroke-width="0.25">Serum iCa concentration at the end of leukapheresis (mg/dL)</text>
<text transform="translate(938.80 969.50) scale(1 1.02)" text-anchor="start" font-size="51" font-weight="bold" stroke="#000" stroke-width="0">d</text>
<text transform="translate(1105.60 1658.80) scale(1 1.04)" text-anchor="start" font-size="27.5" font-weight="normal" stroke="#000" stroke-width="0.25">r = -0.664</text>
<text transform="translate(1105.60 1691.40) scale(1 1.04)" text-anchor="start" font-size="27.5" font-weight="normal" stroke="#000" stroke-width="0.25">p &lt; 0.001*</text>
<text transform="translate(973.50 1405.20) rotate(-90) scale(1 1.0)" text-anchor="middle" font-size="27.5" font-weight="normal" stroke="#000" stroke-width="0.25">Increased iCa 1 h post-leukapheresis</text>
</g>
</svg>
</body></html>
